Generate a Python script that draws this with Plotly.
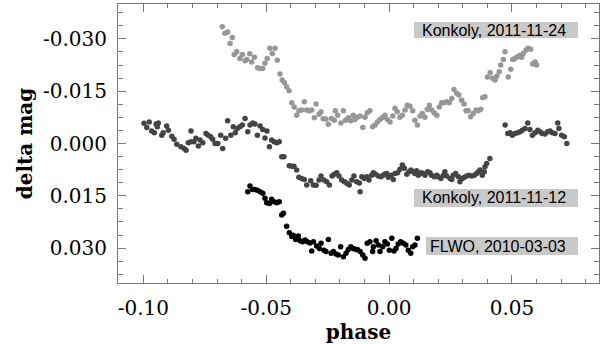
import plotly.graph_objects as go

# Konkoly 2011-11-24 (light gray)
k24_phase = [-0.0679, -0.0668, -0.0657, -0.0647, -0.0638, -0.0630, -0.0620, -0.0607, -0.0597, -0.0586,
             -0.0579, -0.0567, -0.0559, -0.0548, -0.0535, -0.0525, -0.0514, -0.0505, -0.0496, -0.0485,
             -0.0475, -0.0464, -0.0455, -0.0444, -0.0435, -0.0426, -0.0417, -0.0407, -0.0396, -0.0386,
             -0.0376, -0.0367, -0.0356, -0.0345, -0.0335, -0.0325, -0.0315, -0.0304, -0.0297, -0.0285,
             -0.0277, -0.0268, -0.0257, -0.0247, -0.0234, -0.0223, -0.0219, -0.0209, -0.0196, -0.0186,
             -0.0177, -0.0166, -0.0156, -0.0146, -0.0139, -0.0129, -0.0118, -0.0107, -0.0098, -0.0089,
             -0.0078, -0.0067, -0.0057, -0.0048, -0.0037, -0.0026, -0.0017, -0.0007, 0.0004, 0.0015,
             0.0024, 0.0033, 0.0044, 0.0054, 0.0065, 0.0074, 0.0085, 0.0096, 0.0105, 0.0115,
             0.0126, 0.0135, 0.0146, 0.0155, 0.0164, 0.0173, 0.0183, 0.0194, 0.0204, 0.0214,
             0.0223, 0.0234, 0.0245, 0.0255, 0.0264, 0.0275, 0.0284, 0.0295, 0.0305, 0.0313,
             0.0322, 0.0332, 0.0343, 0.0354, 0.0363, 0.0373, 0.0381, 0.0390, 0.0400, 0.0411,
             0.0421, 0.0431, 0.0438, 0.0448, 0.0454, 0.0465, 0.0472, 0.0485, 0.0495, 0.0503,
             0.0512, 0.0522, 0.0533, 0.0539, 0.0546, 0.0557, 0.0566, 0.0576, 0.0584, 0.0594, 0.0600]
k24_mag = [-0.0335, -0.0316, -0.0320, -0.0287, -0.0304, -0.0255, -0.0263, -0.0244, -0.0255, -0.0237,
           -0.0241, -0.0257, -0.0234, -0.0247, -0.0217, -0.0215, -0.0215, -0.0230, -0.0244, -0.0273,
           -0.0258, -0.0273, -0.0239, -0.0199, -0.0182, -0.0175, -0.0163, -0.0151, -0.0117, -0.0105,
           -0.0081, -0.0094, -0.0096, -0.0120, -0.0096, -0.0094, -0.0096, -0.0074, -0.0113, -0.0084,
           -0.0091, -0.0071, -0.0070, -0.0055, -0.0072, -0.0067, -0.0094, -0.0081, -0.0059, -0.0094,
           -0.0067, -0.0074, -0.0065, -0.0081, -0.0069, -0.0075, -0.0079, -0.0046, -0.0075, -0.0088,
           -0.0094, -0.0048, -0.0053, -0.0062, -0.0069, -0.0075, -0.0081, -0.0069, -0.0062, -0.0079,
           -0.0101, -0.0091, -0.0075, -0.0081, -0.0096, -0.0110, -0.0107, -0.0094, -0.0067, -0.0053,
           -0.0079, -0.0086, -0.0075, -0.0098, -0.0110, -0.0096, -0.0088, -0.0081, -0.0105, -0.0117,
           -0.0117, -0.0120, -0.0117, -0.0129, -0.0155, -0.0144, -0.0139, -0.0124, -0.0113, -0.0094,
           -0.0094, -0.0077, -0.0086, -0.0096, -0.0094, -0.0098, -0.0132, -0.0134, -0.0191, -0.0203,
           -0.0187, -0.0182, -0.0193, -0.0206, -0.0225, -0.0241, -0.0263, -0.0191, -0.0213, -0.0241,
           -0.0244, -0.0249, -0.0253, -0.0247, -0.0258, -0.0268, -0.0273, -0.0270, -0.0228, -0.0234, -0.0225]

# Konkoly 2011-11-12 (dark gray)
k12_phase = [-0.0997, -0.0986, -0.0976, -0.0966, -0.0955, -0.0948, -0.0943, -0.0939, -0.0925, -0.0919,
             -0.0905, -0.0898, -0.0884, -0.0875, -0.0864, -0.0847, -0.0834, -0.0826, -0.0817, -0.0807,
             -0.0806, -0.0794, -0.0786, -0.0776, -0.0769, -0.0758, -0.0745, -0.0736, -0.0726, -0.0718,
             -0.0708, -0.0697, -0.0685, -0.0677, -0.0665, -0.0657, -0.0644, -0.0634, -0.0626, -0.0618,
             -0.0607, -0.0597, -0.0586, -0.0575, -0.0566, -0.0555, -0.0546, -0.0536, -0.0525, -0.0514,
             -0.0505, -0.0497, -0.0487, -0.0478, -0.0468, -0.0457, -0.0447, -0.0437, -0.0428, -0.0406,
             -0.0396, -0.0387, -0.0376, -0.0367, -0.0356, -0.0345, -0.0335, -0.0319, -0.0308, -0.0297,
             -0.0285, -0.0277, -0.0265, -0.0254, -0.0243, -0.0232, -0.0223, -0.0213, -0.0204, -0.0193,
             -0.0182, -0.0172, -0.0162, -0.0152, -0.0143, -0.0132, -0.0121, -0.0118, -0.0111, -0.0101,
             -0.0091, -0.0082, -0.0071, -0.0064, -0.0055, -0.0044, -0.0033, -0.0024, -0.0017, -0.0010,
             -0.0003, 0.0008, 0.0017, 0.0024, 0.0035, 0.0044, 0.0054, 0.0062, 0.0072, 0.0081,
             0.0089, 0.0098, 0.0105, 0.0112, 0.0119, 0.0130, 0.0139, 0.0146, 0.0157, 0.0166,
             0.0173, 0.0184, 0.0194, 0.0200, 0.0211, 0.0221, 0.0227, 0.0234, 0.0248, 0.0255,
             0.0261, 0.0271, 0.0282, 0.0288, 0.0298, 0.0306, 0.0316, 0.0325, 0.0336, 0.0347,
             0.0356, 0.0363, 0.0370, 0.0379, 0.0387, 0.0390, 0.0397, 0.0410,
             0.0472, 0.0483, 0.0492, 0.0501, 0.0512, 0.0523, 0.0533, 0.0542, 0.0553, 0.0564,
             0.0573, 0.0583, 0.0594, 0.0605, 0.0614, 0.0623, 0.0634, 0.0645, 0.0655, 0.0664,
             0.0675, 0.0686, 0.0691, 0.0702, 0.0713, 0.0723]
k12_mag = [-0.0058, -0.0046, -0.0062, -0.0036, -0.0031, -0.0056, -0.0048, -0.0059, -0.0024, -0.0031,
           -0.0050, -0.0038, -0.0021, -0.0012, 0.0002, 0.0009, 0.0014, 0.0019, -0.0002, -0.0005,
           -0.0036, -0.0005, -0.0015, 0.0007, -0.0010, -0.0002, -0.0029, -0.0024, -0.0019, -0.0012,
           0.0000, 0.0000, -0.0024, 0.0014, -0.0015, -0.0065, -0.0024, -0.0048, -0.0031, -0.0043,
           -0.0048, -0.0053, -0.0072, -0.0034, -0.0053, -0.0059, -0.0056, -0.0024, -0.0050, -0.0040,
           -0.0016, -0.0036, 0.0009, -0.0010, -0.0005, -0.0002, -0.0005, 0.0038, 0.0038, 0.0064,
           0.0065, 0.0065, 0.0076, 0.0097, 0.0100, 0.0103, 0.0119, 0.0107, 0.0119, 0.0120,
           0.0105, 0.0093, 0.0105, 0.0110, 0.0119, 0.0093, 0.0088, 0.0084, 0.0093, 0.0105,
           0.0110, 0.0114, 0.0119, 0.0105, 0.0093, 0.0110, 0.0113, 0.0138, 0.0095, 0.0100,
           0.0095, 0.0105, 0.0091, 0.0084, 0.0088, 0.0093, 0.0095, 0.0091, 0.0088, 0.0086,
           0.0097, 0.0091, 0.0103, 0.0086, 0.0084, 0.0074, 0.0062, 0.0071, 0.0088, 0.0081,
           0.0076, 0.0081, 0.0086, 0.0078, 0.0091, 0.0084, 0.0086, 0.0091, 0.0081, 0.0084,
           0.0091, 0.0095, 0.0091, 0.0095, 0.0100, 0.0091, 0.0081, 0.0093, 0.0100, 0.0103,
           0.0091, 0.0086, 0.0095, 0.0110, 0.0100, 0.0097, 0.0093, 0.0091, 0.0093, 0.0091,
           0.0086, 0.0081, 0.0076, 0.0091, 0.0081, 0.0067, 0.0057, 0.0043,
           -0.0053, -0.0029, -0.0031, -0.0024, -0.0029, -0.0031, -0.0034, -0.0038, -0.0043, -0.0059,
           -0.0040, -0.0024, -0.0031, -0.0038, -0.0034, -0.0029, -0.0027, -0.0034, -0.0036, -0.0031,
           -0.0029, -0.0059, -0.0043, -0.0024, -0.0019, 0.0000]

# FLWO 2010-03-03 (black)
flwo_phase = [-0.0575, -0.0566, -0.0555, -0.0546, -0.0536, -0.0525, -0.0514, -0.0505, -0.0498, -0.0487,
              -0.0478, -0.0468, -0.0457, -0.0447, -0.0437, -0.0430, -0.0417, -0.0406, -0.0396, -0.0390,
              -0.0380, -0.0369, -0.0362, -0.0352, -0.0342, -0.0333, -0.0322, -0.0315, -0.0308, -0.0295,
              -0.0284, -0.0277, -0.0265, -0.0257, -0.0247, -0.0236, -0.0227, -0.0216, -0.0207, -0.0197,
              -0.0186, -0.0175, -0.0166, -0.0156, -0.0146, -0.0135, -0.0129, -0.0118, -0.0107, -0.0098,
              -0.0089, -0.0078, -0.0067, -0.0064, -0.0053, -0.0044, -0.0037, -0.0026, -0.0017, -0.0007,
              0.0001, 0.0011, 0.0020, 0.0028, 0.0037, 0.0047, 0.0058, 0.0068, 0.0078, 0.0088,
              0.0096, 0.0105, 0.0115]
flwo_mag = [0.0138, 0.0122, 0.0132, 0.0132, 0.0134, 0.0138, 0.0143, 0.0157, 0.0170, 0.0172,
            0.0160, 0.0167, 0.0170, 0.0167, 0.0205, 0.0200, 0.0237, 0.0256, 0.0267, 0.0263,
            0.0275, 0.0265, 0.0279, 0.0282, 0.0277, 0.0282, 0.0285, 0.0308, 0.0282, 0.0294,
            0.0301, 0.0286, 0.0306, 0.0310, 0.0275, 0.0315, 0.0310, 0.0317, 0.0320, 0.0296,
            0.0325, 0.0315, 0.0304, 0.0296, 0.0301, 0.0304, 0.0304, 0.0310, 0.0320, 0.0329,
            0.0286, 0.0282, 0.0310, 0.0296, 0.0279, 0.0291, 0.0310, 0.0296, 0.0282, 0.0288,
            0.0306, 0.0272, 0.0308, 0.0301, 0.0288, 0.0282, 0.0286, 0.0291, 0.0306, 0.0315,
            0.0296, 0.0291, 0.0272]

labels = ["Konkoly, 2011-11-24", "Konkoly, 2011-11-12", "FLWO, 2010-03-03"]
x_tickvals = [-0.10, -0.05, 0.00, 0.05]
x_ticktext = ["-0.10", "-0.05", "0.00", "0.05"]
y_tickvals = [-0.030, -0.015, 0.000, 0.015, 0.030]
y_ticktext = ["-0.030", "-0.015", "0.000", "0.015", "0.030"]

fig = go.Figure()
for xs, ys, col, name in [(k24_phase, k24_mag, "#979797", labels[0]),
                          (k12_phase, k12_mag, "#444444", labels[1]),
                          (flwo_phase, flwo_mag, "#000000", labels[2])]:
    fig.add_trace(go.Scatter(x=xs, y=ys, mode="markers", name=name,
                             marker=dict(size=5.5, color=col, line=dict(width=0))))

serif = "DejaVu Serif"
axis_common = dict(showgrid=False, zeroline=False, showline=True, linecolor="#777777",
                   linewidth=1, mirror="allticks", ticks="inside", ticklen=8, tickcolor="#777777",
                   automargin=False,
                   tickfont=dict(family=serif, size=20, color="black"))

fig.update_layout(
    width=600, height=344,
    margin=dict(l=118, r=1, t=4, b=61),
    paper_bgcolor="white", plot_bgcolor="white",
    showlegend=False,
    xaxis=dict(range=[-0.1103, 0.0854], tickvals=x_tickvals, ticktext=x_ticktext,
               ticklabelstandoff=7,
               minor=dict(dtick=0.01, tick0=0, ticks="inside", ticklen=4, tickcolor="#777777"),
               title=dict(text="<b>phase</b>", font=dict(family=serif, size=20, color="black"), standoff=0),
               **axis_common),
    yaxis=dict(range=[0.040, -0.040], tickvals=y_tickvals, ticktext=y_ticktext,
               ticklabelstandoff=6,
               minor=dict(dtick=0.00375, tick0=0, ticks="inside", ticklen=5, tickcolor="#777777"),
               title=dict(text="<b>delta mag</b>", font=dict(family=serif, size=20, color="black"), standoff=4),
               **axis_common),
)

boxes = [(0.6154, 0.9563, 0.8781, 0.9355, 0.9068),
         (0.6154, 0.9563, 0.2724, 0.3369, 0.3047),
         (0.6403, 0.9563, 0.1004, 0.1649, 0.1326)]
for (x0, x1, y0, y1, yc), txt in zip(boxes, labels):
    fig.add_shape(type="rect", xref="paper", yref="paper", x0=x0, x1=x1, y0=y0, y1=y1,
                  fillcolor="#c9c9c9", line=dict(width=0), layer="below")
    fig.add_annotation(xref="paper", yref="paper", x=0.9356, y=yc, text=txt, showarrow=False,
                       xanchor="right", yanchor="middle",
                       font=dict(family="Liberation Sans", size=16, color="black"))

fig.write_html("out.html", config={"displayModeBar": False},
               post_script="document.body.style.margin='0';document.body.style.overflow='hidden';")
